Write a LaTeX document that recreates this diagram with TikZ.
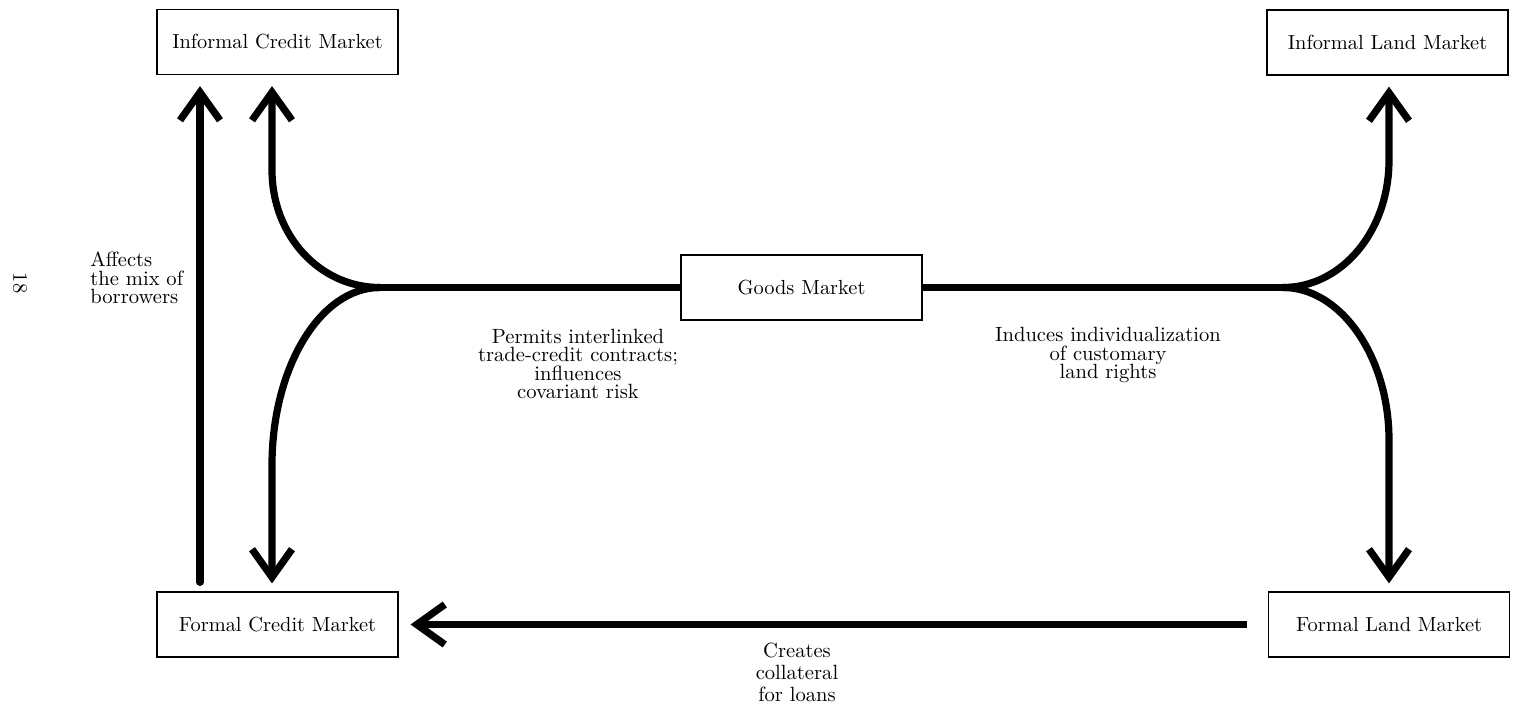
\documentclass[tikz,border=0pt]{standalone}
\usetikzlibrary{arrows.meta}
\begin{document}
\begin{tikzpicture}[x=0.5pt,y=-0.5pt,
  box/.style={draw, line width=0.6pt, minimum width=120.5pt, minimum height=32.5pt, inner sep=0pt, font=\fontsize{10.2}{12}\selectfont},
  conn/.style={line width=3.6pt},
  arr/.style={conn, -{Straight Barb[length=14pt,width=20pt]}},
  lbl/.style={align=center, inner sep=0pt, font=\fontsize{10.3}{9.3}\selectfont}]
\useasboundingbox (0,0) rectangle (1516,707);
% boxes
\node[box] (icm) at (277.5,42) {Informal Credit Market};
\node[box] (ilm) at (1387.5,42.5) {Informal Land Market};
\node[box] (gm) at (801.5,287.5) {Goods Market};
\node[box] (fcm) at (277.5,624.5) {Formal Credit Market};
\node[box] (flm) at (1389,624.5) {Formal Land Market};
% helper coordinates
\coordinate (xa) at (200,0);
\coordinate (xl) at (272,0);
\coordinate (xr) at (1389,0);
\coordinate (jL) at (380,287.5);
\coordinate (jR) at (1283,287.5);
% goods market to junctions
\draw[conn] (gm.west) -- (jL);
\draw[conn] (gm.east) -- (jR);
% left fork
\draw[arr, shorten >=5.5pt] (jL) .. controls (320,287.5) and (272,236) .. (272,170) -- (icm.south -| xl);
\draw[arr, shorten >=4pt] (jL) .. controls (320,287.5) and (272,368) .. (272,465) -- (fcm.north -| xl);
% right fork
\draw[arr, shorten >=5.5pt] (jR) .. controls (1341,287.5) and (1389,232) .. (1389,160) -- (ilm.south -| xr);
\draw[arr, shorten >=4pt] (jR) .. controls (1341,287.5) and (1389,357) .. (1389,440) -- (flm.north -| xr);
% affects the mix of borrowers
\draw[arr, line cap=round, shorten <=4.5pt, shorten >=5.5pt] (fcm.north -| xa) -- (icm.south -| xa);
% creates collateral
\draw[arr, shorten <=10.5pt, shorten >=6pt] (flm.west) -- (fcm.east);
% labels
\node[lbl, align=left, anchor=west] (la) at (90,278) {Affects\\the mix of\\borrowers};
\node[lbl] (lp) at (578,364) {Permits interlinked\\trade-credit contracts;\\influences\\covariant risk};
\node[lbl] (li) at (1108,355) {Induces individualization\\of customary\\land rights};
\node[lbl, font=\fontsize{10.3}{11}\selectfont] (lc) at (797,672) {Creates\\collateral\\for loans};
\node[lbl, rotate=-90] (pg) at (20,283) {18};
\end{tikzpicture}
\end{document}
